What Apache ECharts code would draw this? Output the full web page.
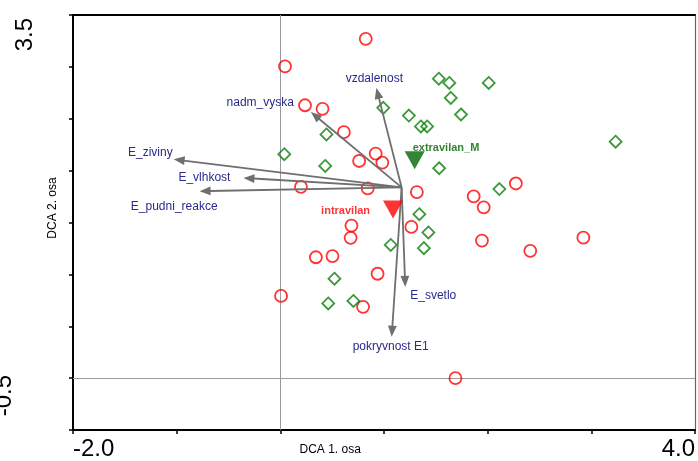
<!DOCTYPE html>
<html>
<head>
<meta charset="utf-8">
<script src="https://cdn.jsdelivr.net/npm/echarts@6/dist/echarts.min.js"></script>
<style>
  html, body { margin: 0; padding: 0; background: #fff; }
  #main { width: 698px; height: 461px; }
</style>
</head>
<body>
<div id="main"></div>
<script>
// DCA ordination: sample scores, group centroids and environmental vectors

// Axis ranges and the tick labels printed at the ends of each axis
const xRange = [-2, 4];
const yRange = [-0.5, 3.5];
const xTickLabels = ['-2.0', '4.0'];
const yTickLabels = ['-0.5', '3.5'];
const xAxisTitle = 'DCA 1. osa';
const yAxisTitle = 'DCA 2. osa';

// Samples from the built-up area (intravilan)
const intravilanX = [0.824, 0.045, 0.238, 0.407, 0.613, 0.760, 0.920, 0.984, 0.199, 0.843,
                     1.317, 1.865, 2.272, 1.962, 1.264, 0.686, 0.678, 0.343, 0.503, 0.938,
                     0.007, 1.945, 2.411, 2.923, 1.689, 0.798];
const intravilanY = [3.270, 3.004, 2.630, 2.596, 2.371, 2.093, 2.164, 2.078, 1.844, 1.828,
                     1.793, 1.752, 1.876, 1.646, 1.457, 1.470, 1.352, 1.165, 1.176, 1.006,
                     0.792, 1.326, 1.227, 1.354, 0.000, 0.687];

// Samples from outside the built-up area (extravilan_M)
const extravilanX = [1.529, 1.630, 2.010, 1.644, 0.993, 1.240, 1.743, 1.356, 1.416, 0.445,
                     0.038, 0.433, 1.532, 3.234, 2.113, 1.341, 1.428, 1.065, 1.385, 0.522,
                     0.462, 0.705];
const extravilanY = [2.886, 2.845, 2.845, 2.701, 2.605, 2.531, 2.541, 2.426, 2.426, 2.349,
                     2.158, 2.045, 2.023, 2.279, 1.822, 1.580, 1.404, 1.284, 1.253, 0.958,
                     0.720, 0.744];

// Group centroids
const centroidNames = ['intravilan', 'extravilan_M'];
const centroidX = [1.087, 1.296];
const centroidY = [1.625, 2.100];

// Environmental variables (arrow tips), drawn from a common origin
const envNames = ['vzdalenost', 'nadm_vyska', 'E_ziviny', 'E_vlhkost',
                  'E_pudni_reakce', 'E_svetlo', 'pokryvnost E1'];
const envX = [0.926, 0.295, -1.029, -0.356, -0.779, 1.205, 1.074];
const envY = [2.797, 2.564, 2.109, 1.930, 1.802, 0.879, 0.399];
const arrowOrigin = [1.170, 1.838];

// Label placement for the arrows: pixel offset from the tip and alignment
const envLabelLayout = [
  { dx: -2,  dy: -9,  align: 'center' },
  { dx: -17, dy: -9,  align: 'right' },
  { dx: -1,  dy: -7,  align: 'right' },
  { dx: -13, dy: 0,   align: 'right' },
  { dx: 18,  dy: 16,  align: 'right' },
  { dx: 5,   dy: 9,   align: 'left' },
  { dx: -1,  dy: 10,  align: 'center' }
];

const FONT = '"Liberation Sans", Arial, Helvetica, sans-serif';
const RED = '#ff0000';
const GREEN = '#0a800a';
const DARK_GREEN = '#006600';
const NAVY = '#2a2a8c';
const ARROW = '#6f6f6f';

const chart = echarts.init(document.getElementById('main'), null, { renderer: 'canvas' });

function zip(xs, ys) { return xs.map((x, i) => [x, ys[i]]); }

function edgeLabel(labels, range) {
  return function (v) {
    if (Math.abs(v - range[0]) < 1e-9) return labels[0];
    if (Math.abs(v - range[1]) < 1e-9) return labels[1];
    return '';
  };
}

const option = {
  animation: false,
  backgroundColor: '#ffffff',
  grid: { left: 73, right: 1, top: 15, bottom: 29, containLabel: false },
  xAxis: [
    {
      type: 'value', min: xRange[0], max: xRange[1], interval: 1,
      position: 'bottom',
      axisLine: { show: true, onZero: false, lineStyle: { color: '#000', width: 2 } },
      axisTick: { show: true, inside: false, length: 4, lineStyle: { color: '#000', width: 1.5 } },
      axisLabel: {
        show: true, formatter: edgeLabel(xTickLabels, xRange), margin: 7,
        fontSize: 24, fontFamily: FONT, color: '#000',
        alignMinLabel: 'left', alignMaxLabel: 'right', showMinLabel: true, showMaxLabel: true,
        hideOverlap: false
      },
      splitLine: { show: false }
    },
    {
      type: 'value', min: xRange[0], max: xRange[1], interval: 1,
      position: 'top',
      axisLine: { show: true, onZero: false, lineStyle: { color: '#000', width: 2 } },
      axisTick: { show: false }, axisLabel: { show: false }, splitLine: { show: false }
    }
  ],
  yAxis: [
    {
      type: 'value', min: yRange[0], max: yRange[1], interval: 0.5,
      position: 'left',
      axisLine: { show: true, onZero: false, lineStyle: { color: '#000', width: 2 } },
      axisTick: { show: true, inside: false, length: 4, lineStyle: { color: '#000', width: 1.5 } },
      axisLabel: { show: false },
      splitLine: { show: false }
    },
    {
      type: 'value', min: yRange[0], max: yRange[1], interval: 0.5,
      position: 'right',
      axisLine: { show: true, onZero: false, lineStyle: { color: '#666', width: 1.2 } },
      axisTick: { show: false }, axisLabel: { show: false }, splitLine: { show: false }
    }
  ],
  series: [
    {
      name: 'intravilan',
      type: 'scatter',
      data: zip(intravilanX, intravilanY),
      symbol: 'circle',
      symbolSize: 12,
      itemStyle: { color: 'rgba(0,0,0,0)', borderColor: RED, borderWidth: 1.8 },
      z: 3,
      markLine: {
        silent: true,
        symbol: ['none', 'none'],
        label: { show: false },
        lineStyle: { color: '#9a9a9a', width: 1, type: 'solid' },
        data: [{ xAxis: 0 }, { yAxis: 0 }],
        z: 1
      }
    },
    {
      name: 'extravilan_M',
      type: 'scatter',
      data: zip(extravilanX, extravilanY),
      symbol: 'diamond',
      symbolSize: 12,
      itemStyle: { color: 'rgba(0,0,0,0)', borderColor: GREEN, borderWidth: 1.8 },
      z: 3
    },
    {
      name: 'env',
      type: 'custom',
      data: envNames.map((n, i) => [envX[i], envY[i], i]),
      encode: { x: 0, y: 1 },
      clip: false,
      z: 4,
      renderItem: function (params, api) {
        const i = api.value(2);
        const start = api.coord(arrowOrigin);
        const end = api.coord([api.value(0), api.value(1)]);
        const dx = end[0] - start[0], dy = end[1] - start[1];
        const len = Math.sqrt(dx * dx + dy * dy);
        const ux = dx / len, uy = dy / len;
        const headLen = 11, headHalf = 4.4;
        const bx = end[0] - ux * headLen, by = end[1] - uy * headLen;
        const px = -uy, py = ux;
        const lay = envLabelLayout[i];
        return {
          type: 'group',
          children: [
            {
              type: 'line',
              shape: { x1: start[0], y1: start[1], x2: bx + ux * 1, y2: by + uy * 1 },
              style: { stroke: ARROW, lineWidth: 1.8 }
            },
            {
              type: 'polygon',
              shape: { points: [end, [bx + px * headHalf, by + py * headHalf], [bx - px * headHalf, by - py * headHalf]] },
              style: { fill: ARROW }
            },
            {
              type: 'text',
              x: end[0] + lay.dx,
              y: end[1] + lay.dy,
              style: {
                text: envNames[i], fill: NAVY, font: '12px ' + FONT,
                align: lay.align, verticalAlign: 'middle'
              }
            }
          ]
        };
      }
    },
    {
      name: 'centroids',
      type: 'scatter',
      z: 5,
      symbol: 'triangle',
      symbolRotate: 180,
      symbolSize: [20, 18],
      data: [
        {
          name: centroidNames[0], value: [centroidX[0], centroidY[0]],
          itemStyle: { color: RED },
          label: {
            show: true, position: [-13, 10.8], align: 'right', verticalAlign: 'middle',
            color: RED, fontWeight: 'bold', fontSize: 11, fontFamily: FONT,
            formatter: '{b}'
          }
        },
        {
          name: centroidNames[1], value: [centroidX[1], centroidY[1]],
          itemStyle: { color: DARK_GREEN },
          label: {
            show: true, position: [8, -3.7], align: 'left', verticalAlign: 'middle',
            color: DARK_GREEN, fontWeight: 'bold', fontSize: 11, fontFamily: FONT,
            formatter: '{b}'
          }
        }
      ]
    }
  ]
};

chart.setOption(option);

// Axis titles and rotated end labels of the vertical axis
const yTop = chart.convertToPixel({ gridIndex: 0 }, [xRange[0], yRange[1]]);
const yBottom = chart.convertToPixel({ gridIndex: 0 }, [xRange[0], yRange[0]]);
const xMid = chart.convertToPixel({ gridIndex: 0 }, [0.5, yRange[0]]);

chart.setOption({
  graphic: [
    {
      type: 'text', id: 'ytop', x: yTop[0] - 36, y: yTop[1] + 3, rotation: Math.PI / 2,
      style: { text: yTickLabels[1], font: '24px ' + FONT, fill: '#000', align: 'right', verticalAlign: 'bottom' }
    },
    {
      type: 'text', id: 'ybottom', x: yBottom[0] - 57, y: yBottom[1] - 55, rotation: Math.PI / 2,
      style: { text: yTickLabels[0], font: '24px ' + FONT, fill: '#000', align: 'right', verticalAlign: 'bottom' }
    },
    {
      type: 'text', id: 'xtitle', x: xMid[0] - 2, y: xMid[1] + 20,
      style: { text: xAxisTitle, font: '12px ' + FONT, fill: '#000', align: 'center', verticalAlign: 'middle' }
    },
    {
      type: 'text', id: 'ytitle', x: 52.5, y: 208, rotation: Math.PI / 2,
      style: { text: yAxisTitle, font: '12px ' + FONT, fill: '#000', align: 'center', verticalAlign: 'middle' }
    }
  ]
});
</script>
</body>
</html>
